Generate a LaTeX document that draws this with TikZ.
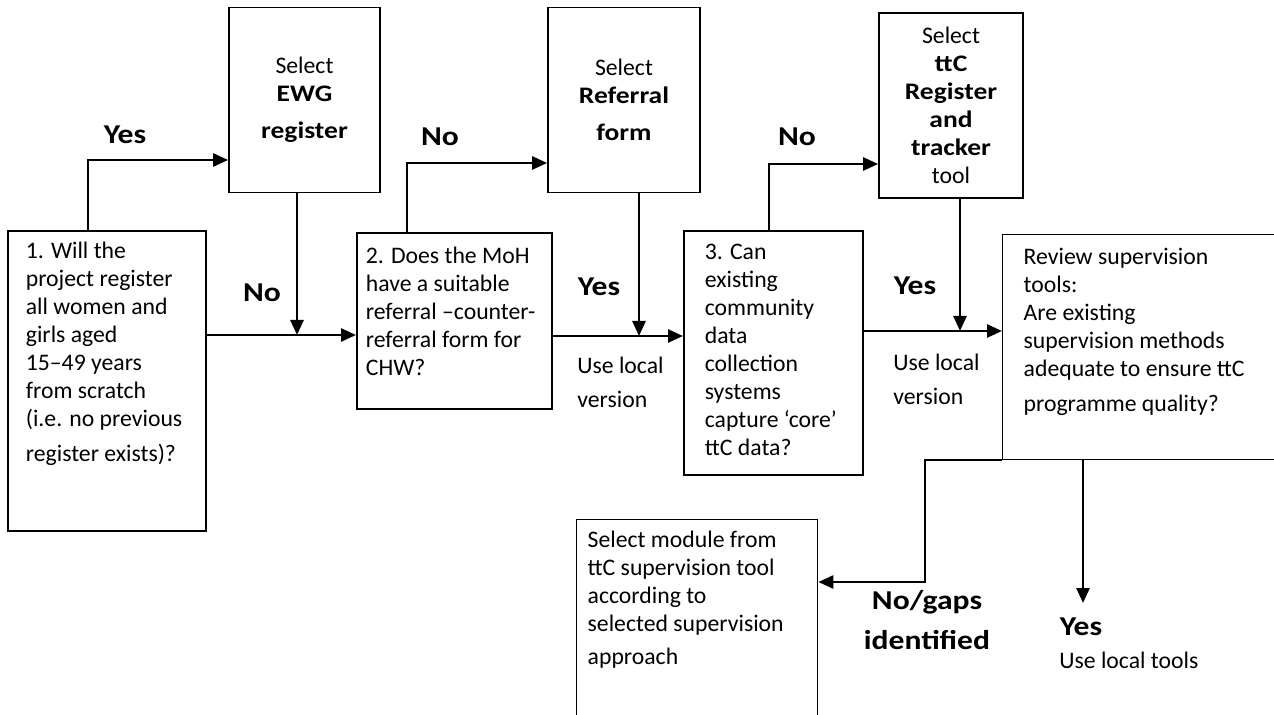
\documentclass[tikz,border=0pt]{standalone}
\usepackage{fontspec}
\setmainfont{Carlito}[BoldFeatures={FakeStretch=1.16}]
\usetikzlibrary{arrows.meta, positioning}
\hyphenpenalty=10000

\begin{document}
\begin{tikzpicture}[x=0.02cm, y=-0.02cm, font=\fontsize{13.5}{15.9}\selectfont,
    qbox/.style={draw, line width=1pt, anchor=north west, align=flush left, text height=1em},
    selbox/.style={draw, line width=1pt, align=center, minimum width=#1, minimum height=3.7cm, inner sep=2pt},
    flow/.style={line width=1.5pt, -{Triangle[length=0.3cm, width=0.26cm]}},
    lbl/.style={font=\fontsize{15.5}{17}\selectfont\bfseries, align=center},
    note/.style={anchor=north west, align=left, inner sep=0pt}]
    \useasboundingbox (0,0) rectangle (1274,715);
    \clip (0,0) rectangle (1274,715);
    % question boxes
    \node[qbox, inner xsep=0.36cm, inner ysep=0.21cm, text width=3.24cm, text depth=5.23cm] (q1) at (7,230)
        {1. Will the\\ project register\\ all women and\\ girls aged\\ 15–49 years\\ from scratch\\ (i.e. no previous\\[4pt] register exists)?};
    \node[qbox, inner xsep=0.18cm, inner ysep=0.27cm, text width=3.54cm, text depth=2.63cm] (q2) at (356,232)
        {2. Does the MoH\\ have a suitable\\ referral –counter-\\ referral form for\\ CHW?};
    \node[qbox, inner xsep=0.42cm, inner ysep=0.23cm, text width=2.74cm, text depth=4.07cm] (q3) at (683,230)
        {3. Can\\ existing\\ community\\ data\\ collection\\ systems\\ capture ‘core’\\ ttC data?};
    \node[qbox, line width=0.8pt, inner xsep=0.42cm, inner ysep=0.25cm, text width=5.16cm, text depth=3.64cm] (rev) at (1002,234)
        {Review supervision\\ tools:\\ Are existing\\ supervision methods\\ adequate to ensure ttC\\[4pt] programme quality?};
    \node[qbox, line width=0.8pt, inner xsep=0.22cm, inner ysep=0.21cm, text width=4.38cm, text depth=3.53cm] (sel) at (576,519)
        {Select module from\\ ttC supervision tool\\ according to\\ selected supervision\\[3pt] approach};
    % tool boxes
    \node[selbox=3.02cm] (ewg) at (304.5,100) {Select\\ \textbf{EWG}\\[5pt] \textbf{register}};
    \node[selbox=3.04cm] (refer) at (624,100) {Select\\ \textbf{Referral}\\[5pt] \textbf{form}};
    \node[selbox=2.88cm] (track) at (951,105.5) {Select\\ \textbf{ttC}\\ \textbf{Register}\\ \textbf{and}\\ \textbf{tracker}\\ tool};
    % bends and joins
    \coordinate (t1) at (88,160);
    \coordinate (j1) at (297,335);
    \coordinate (t2) at (407,163);
    \coordinate (j2) at (639,336);
    \coordinate (t3) at (769,164);
    \coordinate (j3) at (960,331);
    \coordinate (t4) at (925,582);
    \coordinate (j4) at (1083,603);
    % connectors
    \draw[flow] (q1.north -| t1) |- (ewg.west |- t1);
    \draw[flow] (ewg.south -| j1) -- (j1);
    \draw[flow] (q1.east |- j1) -- (q2.west |- j1);
    \draw[flow] (q2.north -| t2) |- (refer.west |- t2);
    \draw[flow] (refer.south -| j2) -- (j2);
    \draw[flow] (q2.east |- j2) -- (q3.west |- j2);
    \draw[flow] (q3.north -| t3) |- (track.west |- t3);
    \draw[flow] (track.south -| j3) -- (j3);
    \draw[flow] (q3.east |- j3) -- (rev.west |- j3);
    \draw[flow] (rev.south west) -| (t4) -- (sel.east |- t4);
    \draw[flow] (rev.south -| j4) -- (j4);
    % labels
    \node[lbl] (yes1) at (125,135) {Yes};
    \node[lbl] (no1) at (262,293) {No};
    \node[lbl] (no2) at (440,137) {No};
    \node[lbl] (yes2) at (599,287) {Yes};
    \node[lbl] (no3) at (797,137) {No};
    \node[lbl] (yes3) at (915,286) {Yes};
    \node[lbl] (nogap) at (927,620) {No/gaps\\[6pt] identified};
    \node[lbl] (yes4) at (1081,627) {Yes};
    \node[note] (loc2) at (577,357) {Use local\\[3pt] version};
    \node[note] (loc3) at (893,354) {Use local\\[3pt] version};
    \node[note] (loc4) at (1059,652) {Use local tools};
\end{tikzpicture}
\end{document}
